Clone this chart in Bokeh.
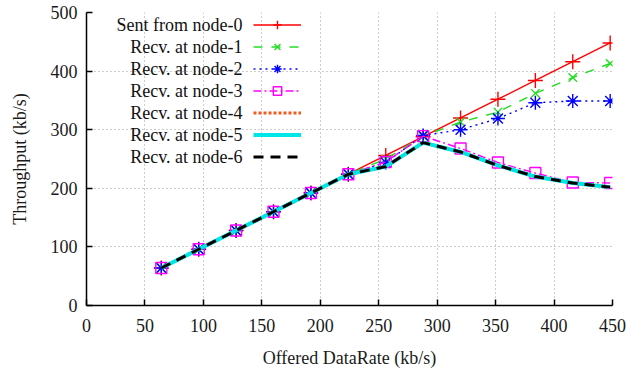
from bokeh.plotting import figure
from bokeh.models import FixedTicker, Range1d, Legend, LegendItem, Label
from bokeh.embed import file_html
from bokeh.resources import INLINE

# ---- data ----
offered = [64, 96, 128, 160, 192, 224, 256, 288, 320, 352, 384, 416, 448]
node0 = [64, 96, 128, 160, 192, 224, 256, 288, 320, 352, 384, 416, 448]
node1 = [64, 96, 128, 160, 192, 224, 250, 289, 313, 330, 362, 389, 413]
node2 = [64, 96, 128, 160, 192, 224, 244, 290, 300, 319, 346, 349, 349]
node3 = [64, 96, 128, 160, 192, 224, 245, 289, 268, 244, 226, 210, 209]
node4 = [64, 96, 128, 160, 192, 224, 237, 278, 262, 239, 220, 209, 202]
node5 = [64, 96, 128, 160, 192, 224, 237, 278, 262, 239, 220, 209, 202]
node6 = [64, 96, 128, 160, 192, 224, 237, 278, 262, 239, 220, 209, 202]

labels = ["Sent from node-0", "Recv. at node-1", "Recv. at node-2", "Recv. at node-3",
          "Recv. at node-4", "Recv. at node-5", "Recv. at node-6"]
x_ticks = [0, 50, 100, 150, 200, 250, 300, 350, 400, 450]
y_ticks = [0, 100, 200, 300, 400, 500]

FONT = "Liberation Serif"
FS = "18px"

p = figure(width=630, height=370, output_backend="svg", toolbar_location=None,
           x_range=Range1d(0, 450), y_range=Range1d(0, 500),
           min_border_left=86, min_border_right=18, min_border_top=12, min_border_bottom=65)
p.outline_line_color = None
p.background_fill_color = "white"

for ax in (p.xaxis[0], p.yaxis[0]):
    ax.axis_line_color = "black"
    ax.axis_line_width = 1.5
    ax.major_tick_in = 6
    ax.major_tick_out = 0
    ax.major_tick_line_color = "black"
    ax.major_tick_line_width = 1.5
    ax.minor_tick_line_color = None
    ax.major_label_text_font = FONT
    ax.major_label_text_font_size = FS
    ax.major_label_text_color = "#1a1a1a"
    ax.axis_label_text_font = FONT
    ax.axis_label_text_font_size = FS
    ax.axis_label_text_font_style = "normal"
    ax.axis_label_text_color = "#1a1a1a"

p.xaxis.ticker = FixedTicker(ticks=x_ticks)
p.yaxis.ticker = FixedTicker(ticks=y_ticks)
p.xaxis.axis_label = "Offered DataRate (kb/s)"
p.yaxis.axis_label = "Throughput (kb/s)"
p.xaxis.major_label_standoff = 13
p.yaxis.major_label_standoff = 9
p.xaxis.axis_label_standoff = 13
p.yaxis.axis_label_standoff = 18

p.grid.grid_line_color = "#9a9a9a"
p.grid.grid_line_dash = "1 3"
p.grid.grid_line_width = 1

items = []
# node-0
l0 = p.line(offered, node0, line_color="#ff0000", line_width=1.4)
s0 = p.scatter(offered, node0, marker="cross", size=15, line_color="#ff0000", line_width=1.4)
items.append(LegendItem(label=" ", renderers=[l0, s0]))
# node-1
l1 = p.line(offered, node1, line_color="#22dd22", line_width=1.4, line_dash="9 9")
s1 = p.scatter(offered, node1, marker="x", size=12, line_color="#22dd22", line_width=1.4)
items.append(LegendItem(label=" ", renderers=[l1, s1]))
# node-2
l2 = p.line(offered, node2, line_color="#0000ff", line_width=1.4, line_dash="2 4")
s2 = p.scatter(offered, node2, marker="asterisk", size=14, line_color="#0000ff", line_width=1.4)
items.append(LegendItem(label=" ", renderers=[l2, s2]))
# node-3
l3 = p.line(offered, node3, line_color="#ff00ff", line_width=1.4, line_dash="8 3 2 3")
s3 = p.scatter(offered, node3, marker="square", size=11, line_color="#ff00ff",
               fill_color=None, line_width=1.4)
items.append(LegendItem(label=" ", renderers=[l3, s3]))
# node-4
l4 = p.line(offered, node4, line_color="#f05a1e", line_width=3, line_dash="3 2")
items.append(LegendItem(label=" ", renderers=[l4]))
# node-5
l5 = p.line(offered, node5, line_color="#00e5e5", line_width=4)
items.append(LegendItem(label=" ", renderers=[l5]))
# node-6
l6 = p.line(offered, node6, line_color="black", line_width=3, line_dash="10 7")
items.append(LegendItem(label=" ", renderers=[l6]))

legend = Legend(items=items, location=(167, 138), padding=0, margin=0,
                glyph_width=48, glyph_height=21, label_height=21, spacing=1,
                label_standoff=0, label_width=1,
                background_fill_alpha=0, border_line_color=None,
                label_text_font_size="1px")
p.add_layout(legend, "center")

for i, txt in enumerate(labels):
    p.add_layout(Label(x=156, y=281 - 22 * i, x_units="screen", y_units="screen",
                       text=txt, text_align="right", text_baseline="middle",
                       text_font=FONT, text_font_size=FS, text_color="#111111"))

open("out.html", "w").write(file_html(p, INLINE))
